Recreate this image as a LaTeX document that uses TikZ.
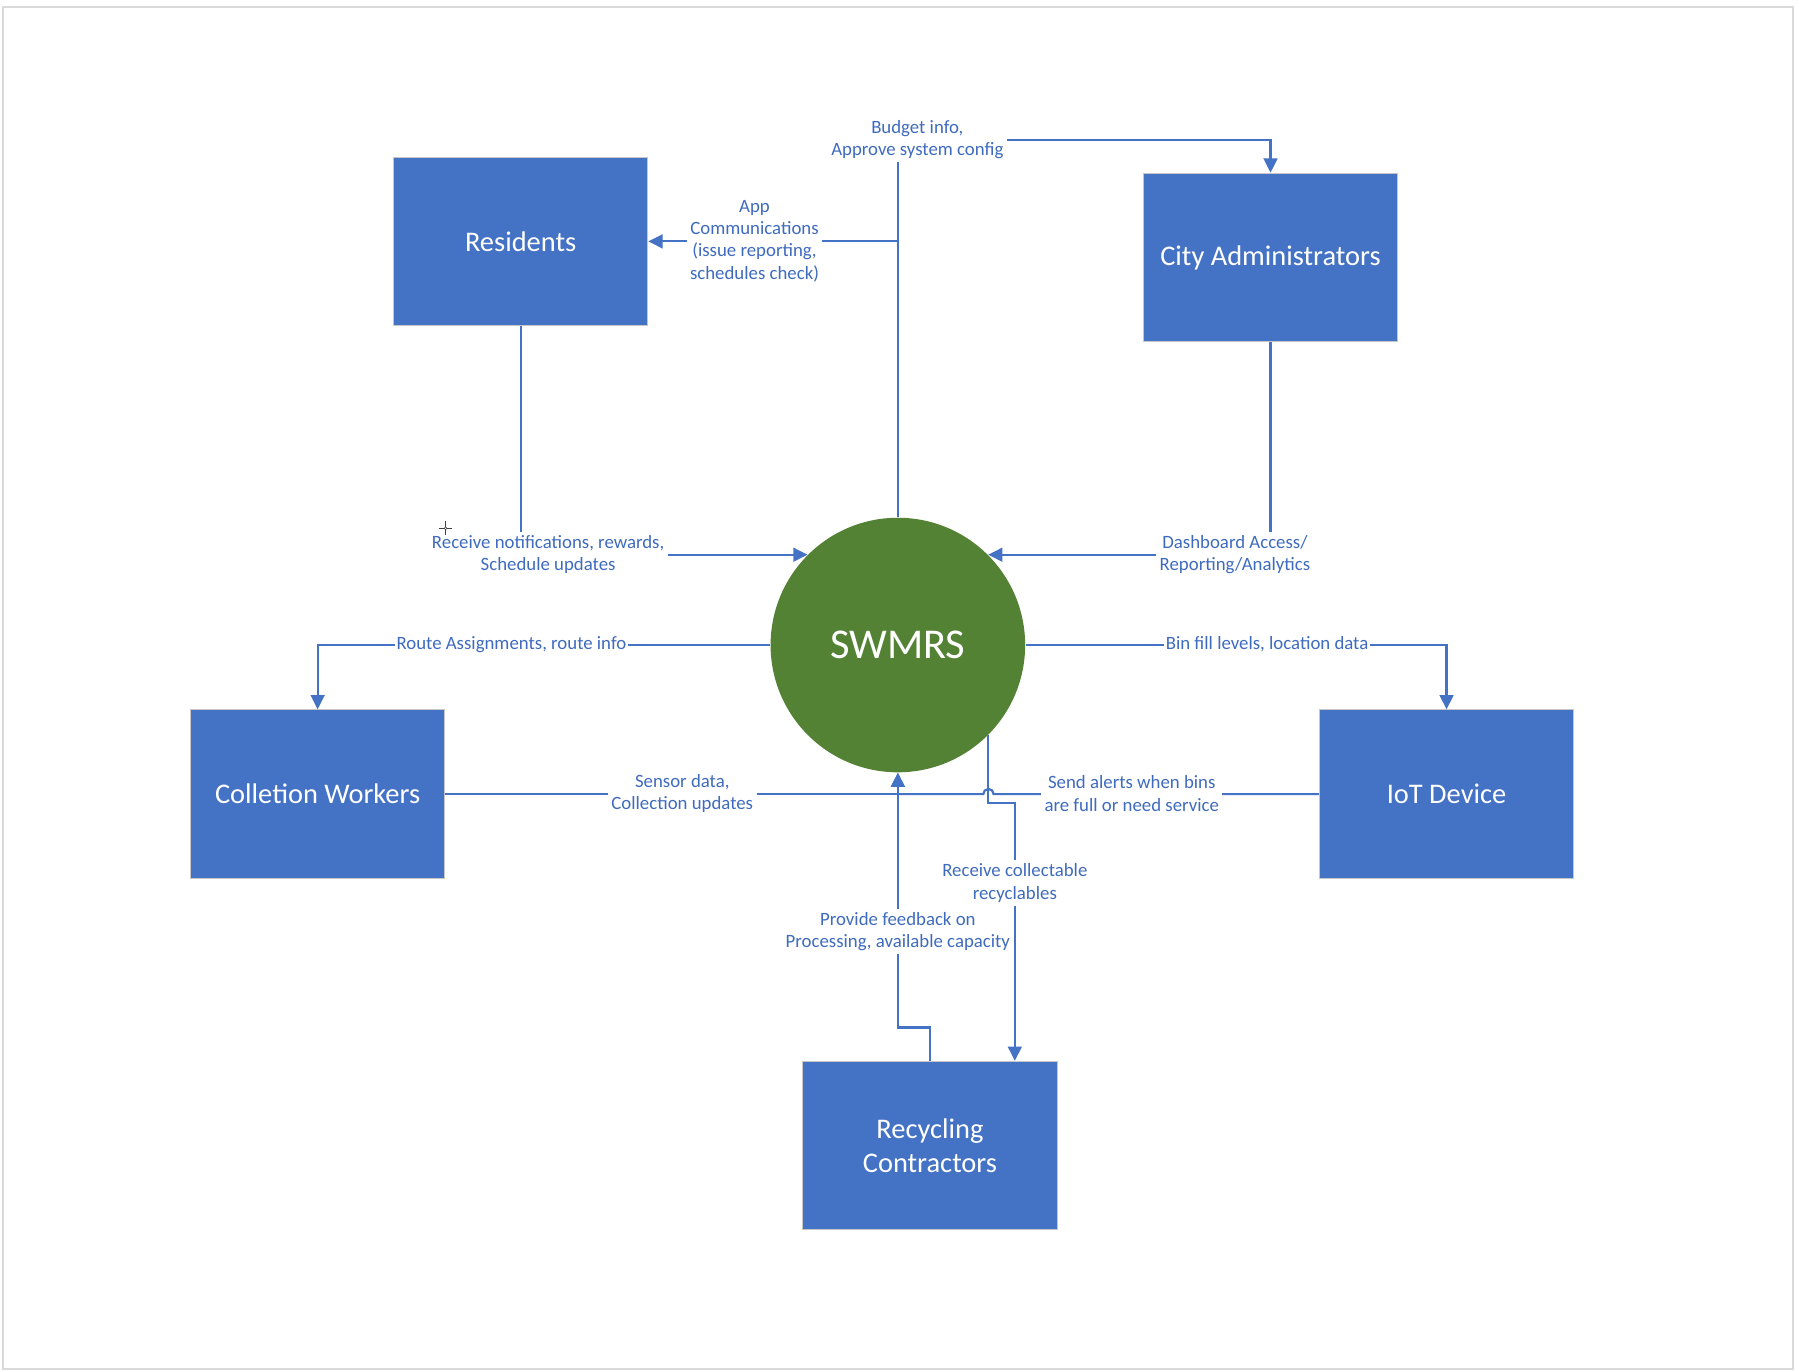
\documentclass[tikz,border=0pt]{standalone}
\usepackage{fontspec}
\setmainfont{Carlito}
\usetikzlibrary{arrows.meta}
\definecolor{boxblue}{HTML}{4472C4}
\definecolor{hubgreen}{HTML}{548235}
\definecolor{flowblue}{HTML}{4472C4}
\definecolor{lbltext}{HTML}{3F6BBF}
\definecolor{framegray}{HTML}{D9D9D9}
\tikzset{
  entity/.style={rectangle, fill=boxblue, draw=black!22, line width=0.4pt,
    minimum width=111pt, minimum height=73.5pt, inner sep=0pt,
    text=white, align=center, font=\fontsize{12.4}{15}\selectfont},
  hub/.style={circle, fill=hubgreen, minimum size=111pt, inner sep=0pt,
    text=white, font=\fontsize{18.5}{22}\selectfont},
  flow/.style={draw=flowblue, line width=0.95pt},
  arr/.style={flow, -{Triangle[length=6.2pt,width=6pt]}},
  lbl/.style={fill=white, inner sep=1.5pt, text=lbltext, align=center,
    font=\fontsize{8.2}{9.75}\selectfont},
  tightlbl/.style={lbl, inner sep=0.6pt}
}
\begin{document}
\begin{tikzpicture}[x=0.5pt,y=-0.5pt]
\useasboundingbox (0,0) rectangle (1568,1196);
% outer frame
\draw[framegray, line width=1pt] (2.6,6.2) rectangle (1563.4,1193.8);

% external entities and the central process
\node[entity] (res) at (454,210.5) {Residents};
\node[entity] (ca)  at (1108,224.5) {City Administrators};
\node[entity] (cw)  at (277,692.5) {Colletion Workers};
\node[entity] (iot) at (1261.5,692.5) {IoT Device};
\node[entity] (rc)  at (811,999) {Recycling\\Contractors};
\node[hub] (sw) at (783,562.5) {SWMRS};

% junction points
\coordinate (top) at (783,122);
\coordinate (jres) at (783,210.5);
\coordinate (bend) at (885,700);
\coordinate (hop) at (866.5,692.5);

% SWMRS -> City Administrators, with branch to Residents
\draw[arr] (sw.north) -- (top) -| (ca.north);
\draw[arr] (jres) -- (res.east);
% Residents -> SWMRS
\draw[arr] (res.south) |- (sw.135);
% City Administrators -> SWMRS
\draw[arr] (ca.south) |- (sw.45);
% SWMRS -> Collection Workers
\draw[arr] (sw.west) -| (cw.north);
% SWMRS -> IoT Device
\draw[arr] (sw.east) -| (iot.north);
% Collection Workers -> SWMRS
\draw[flow] (cw.east) -- (sw.south |- cw.east);
\draw[arr] (sw.south |- cw.east) -- (sw.south);
% IoT Device -> SWMRS, hopping over the recyclables line
\draw[flow] (iot.west) -- (hop)
  arc[start angle=0, end angle=-180, radius=4.5] -- (sw.south |- iot.west);
% Recycling Contractors -> SWMRS
\draw[arr] (rc.north) -- ++(0,-29) -| (sw.south);
% SWMRS -> Recycling Contractors
\draw[arr] (sw.-45) |- (bend) -- (bend |- rc.north);

% flow labels
\node[lbl] (lbudget) at (800,121.5) {Budget info,\\Approve system config};
\node[lbl] (lapp) at (658,210) {App\\Communications\\(issue reporting,\\schedules check)};
\node[lbl] (lrecv) at (478,483.5) {Receive notifications, rewards,\\Schedule updates};
\node[lbl] (ldash) at (1077,483.5) {Dashboard Access/\\Reporting/Analytics};
\node[tightlbl] (lroute) at (446,562) {Route Assignments, route info};
\node[tightlbl] (lbin) at (1105,562) {Bin fill levels, location data};
\node[lbl] (lsensor) at (595,692) {Sensor data,\\Collection updates};
\node[lbl] (lalert) at (987,692) {Send alerts when bins\\are full or need service};
\node[lbl] (lfeed) at (783,812.5) {Provide feedback on\\Processing, available capacity};
\node[lbl] (lcollect) at (885,770) {Receive collectable\\recyclables};

% small crosshair marker
\draw[black!75, line width=0.6pt] (382.5,460.7) -- (394.5,460.7) (388.6,454.7) -- (388.6,466.7);
\fill[black!75] (388.6,460.7) circle[radius=1.6];
\fill[white] (388.6,460.7) circle[radius=0.7];
\end{tikzpicture}
\end{document}
